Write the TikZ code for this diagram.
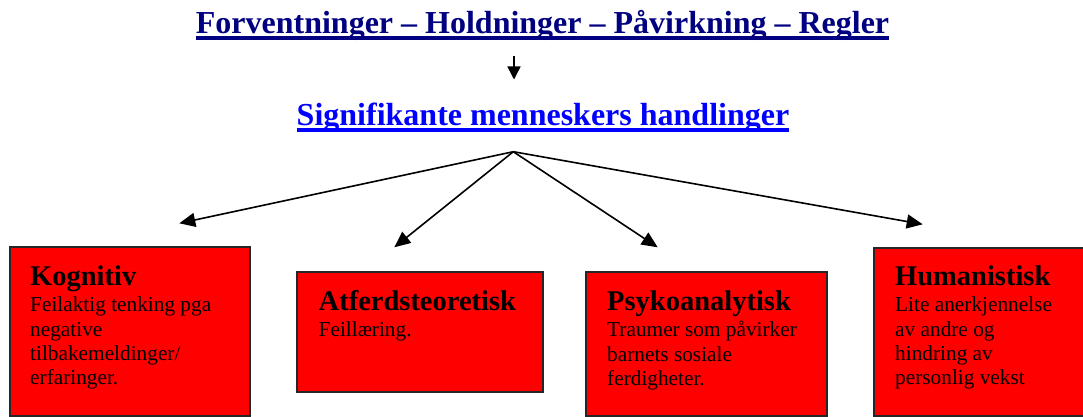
\documentclass[tikz,border=0pt]{standalone}
\usepackage{fontspec}
\setmainfont[Ligatures=NoCommon]{Liberation Serif}
\usetikzlibrary{arrows.meta}
\definecolor{navy}{HTML}{000080}
\definecolor{lblue}{HTML}{0000FF}
\definecolor{boxred}{HTML}{FF0000}
\begin{document}
\begin{tikzpicture}[x=1pt,y=-1pt,
  box/.style={draw=black!85, line width=1.5pt, fill=boxred, rectangle, inner sep=0pt},
  conn/.style={line width=1.6pt, -{Triangle[length=16pt,width=14pt]}},
  conn2/.style={line width=1.5pt, -{Triangle[length=13pt,width=13pt]}},
  head/.style={anchor=base west, inner sep=0pt, font=\fontsize{28.5}{30}\selectfont\bfseries},
  body/.style={anchor=base west, inner sep=0pt, font=\fontsize{21.3}{24.4}\selectfont},
  ttl/.style={anchor=base, inner sep=0pt, font=\fontsize{32}{36}\selectfont\bfseries}]
\useasboundingbox (0,0) rectangle (1083,417);
\begin{scope}
\clip (0,0) rectangle (1083,417);
% titles
\node[ttl, text=navy] (t1) at (542.5,34) {Forventninger – Holdninger – Påvirkning – Regler};
\draw[navy, line width=3.8pt] ([yshift=-4.3pt]t1.base west) -- ([yshift=-4.3pt]t1.base east);
\node[ttl, text=lblue] (t2) at (543,125) {Signifikante menneskers handlinger};
\draw[lblue, line width=3.8pt] ([yshift=-5pt]t2.base west) -- ([yshift=-5pt]t2.base east);
% small arrow
\coordinate (s1) at (514,56);
\coordinate (s2) at (514,79.5);
\draw[conn2] (s1) -- (s2);
% boxes
\node[box, minimum width=240pt, minimum height=169pt] (k) at (130,331.5) {};
\node[box, minimum width=246pt, minimum height=120pt] (a) at (420,332) {};
\node[box, minimum width=241pt, minimum height=144pt] (p) at (706.5,344) {};
\node[box, minimum width=220pt, minimum height=168pt] (h) at (984,332) {};
% texts
\node[head] (kh) at (30,285) {Kognitiv};
\node[body] (kb) at (30,311.7) {\begin{tabular}[t]{@{}l@{}}Feilaktig tenking pga\\negative\\tilbakemeldinger/\\erfaringer.\end{tabular}};
\node[head] (ah) at (318.5,310.7) {Atferdsteoretisk};
\node[body] (ab) at (318.5,336.7) {\begin{tabular}[t]{@{}l@{}}Feillæring.\end{tabular}};
\node[head] (ph) at (607,310.7) {Psykoanalytisk};
\node[body] (pb) at (607,336.7) {\begin{tabular}[t]{@{}l@{}}Traumer som påvirker\\barnets sosiale\\ferdigheter.\end{tabular}};
\node[head] (hh) at (895,285) {Humanistisk};
\node[body] (hb) at (895,311.7) {\begin{tabular}[t]{@{}l@{}}Lite anerkjennelse\\av andre og\\hindring av\\personlig vekst\end{tabular}};
% fan arrows
\coordinate (o) at (513.3,151.7);
\coordinate (e1) at (179.3,223.3);
\coordinate (e2) at (394.3,247.3);
\coordinate (e3) at (657.7,247.3);
\coordinate (e4) at (922.7,224.3);
\draw[conn] (o) -- (e1);
\draw[conn] (o) -- (e2);
\draw[conn] (o) -- (e3);
\draw[conn] (o) -- (e4);
\end{scope}
\end{tikzpicture}
\end{document}
